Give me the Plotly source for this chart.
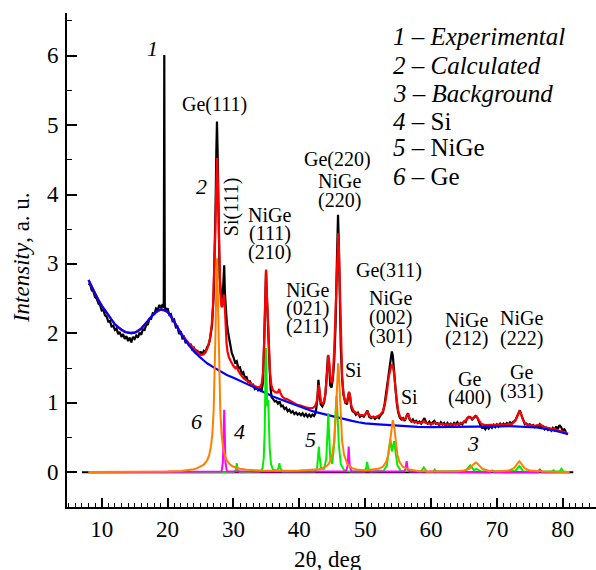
import plotly.graph_objects as go

# ---------------- data ----------------
EXP = [
    (8.0, 2.72), (8.25, 2.70), (8.5, 2.62), (8.75, 2.60), (9.0, 2.52), (9.25, 2.50), (9.5, 2.43), (9.75, 2.41),
    (10.0, 2.33), (10.25, 2.34), (10.5, 2.26), (10.75, 2.24), (11.0, 2.17), (11.25, 2.18), (11.5, 2.10), (11.75, 2.11),
    (12.0, 2.05), (12.25, 2.07), (12.5, 1.99), (12.75, 2.02), (13.0, 1.95), (13.25, 1.99), (13.5, 1.92), (13.75, 1.96),
    (14.0, 1.89), (14.25, 1.94), (14.5, 1.87), (14.75, 1.95), (15.0, 1.92), (15.25, 1.97), (15.5, 1.94), (15.75, 2.01),
    (16.0, 1.98), (16.25, 2.06), (16.5, 2.05), (16.75, 2.12), (17.0, 2.13), (17.25, 2.21), (17.5, 2.21), (17.75, 2.29),
    (18.0, 2.28), (18.25, 2.36), (18.5, 2.34), (18.75, 2.41), (19.0, 2.36), (19.25, 2.42), (19.42, 2.37), (19.5, 6.01),
    (19.58, 2.40), (19.75, 2.32), (20.0, 2.36), (20.25, 2.27), (20.5, 2.28), (20.75, 2.18), (21.0, 2.20), (21.25, 2.09),
    (21.5, 2.10), (21.75, 1.99), (22.0, 2.03), (22.25, 1.93), (22.5, 1.95), (22.75, 1.86), (23.0, 1.89), (23.25, 1.82),
    (23.5, 1.85), (23.75, 1.77), (24.0, 1.79), (24.25, 1.72), (24.5, 1.76), (24.75, 1.70), (25.0, 1.74), (25.25, 1.69),
    (25.5, 1.75), (25.75, 1.73), (26.0, 1.80), (26.25, 1.84), (26.5, 1.95), (26.75, 2.12), (27.0, 2.55), (27.15, 3.05),
    (27.3, 3.90), (27.4, 4.60), (27.5, 5.05), (27.6, 4.60), (27.7, 3.90), (27.8, 3.20), (27.9, 2.80), (28.0, 2.70),
    (28.2, 2.45), (28.35, 2.50), (28.5, 2.85), (28.6, 2.98), (28.7, 2.60), (28.85, 2.30), (29.0, 2.15), (29.25, 1.98),
    (29.5, 1.85), (29.75, 1.72), (30.0, 1.66), (30.25, 1.58), (30.5, 1.60), (30.75, 1.50), (31.0, 1.51), (31.25, 1.42),
    (31.5, 1.44), (31.75, 1.36), (32.0, 1.37), (32.25, 1.30), (32.5, 1.31), (32.75, 1.25), (33.0, 1.26), (33.25, 1.20),
    (33.5, 1.22), (33.75, 1.18), (34.0, 1.20), (34.25, 1.16), (34.5, 1.30), (34.7, 1.90), (34.85, 2.60), (34.95, 2.90),
    (35.05, 2.60), (35.2, 2.15), (35.35, 2.00), (35.5, 1.50), (35.65, 1.20), (35.8, 1.08), (36.0, 1.06), (36.25, 1.02),
    (36.5, 1.03), (36.75, 0.99), (37.0, 1.02), (37.25, 0.95), (37.5, 0.96), (37.75, 0.91), (38.0, 0.93), (38.25, 0.88),
    (38.5, 0.90), (38.75, 0.86), (39.0, 0.88), (39.25, 0.84), (39.5, 0.86), (39.75, 0.83), (40.0, 0.85), (40.25, 0.82),
    (40.5, 0.85), (40.75, 0.81), (41.0, 0.84), (41.25, 0.80), (41.5, 0.83), (41.75, 0.80), (42.0, 0.83), (42.25, 0.81),
    (42.5, 0.86), (42.75, 1.05), (42.9, 1.33), (43.05, 1.20), (43.25, 0.98), (43.5, 0.95), (43.75, 1.00), (44.0, 1.15),
    (44.2, 1.45), (44.35, 1.68), (44.5, 1.60), (44.7, 1.25), (44.9, 1.22), (45.1, 1.35), (45.3, 1.60), (45.5, 2.10),
    (45.7, 3.00), (45.88, 3.71), (46.0, 3.30), (46.15, 2.50), (46.3, 1.80), (46.5, 1.35), (46.7, 1.12), (47.0, 1.00),
    (47.25, 0.98), (47.4, 1.08), (47.55, 1.15), (47.7, 1.10), (47.9, 0.93), (48.1, 0.88), (48.4, 0.86), (48.6, 0.83),
    (48.9, 0.86), (49.2, 0.80), (49.5, 0.82), (49.8, 0.80), (50.1, 0.86), (50.35, 0.89), (50.6, 0.80), (50.9, 0.78),
    (51.2, 0.80), (51.5, 0.77), (51.8, 0.80), (52.1, 0.78), (52.4, 0.83), (52.7, 0.86), (52.95, 0.98), (53.2, 1.15),
    (53.45, 1.35), (53.7, 1.55), (53.9, 1.68), (54.05, 1.74), (54.2, 1.68), (54.4, 1.50), (54.6, 1.22), (54.8, 1.00),
    (55.0, 0.87), (55.25, 0.79), (55.5, 0.76), (55.75, 0.78), (56.0, 0.74), (56.25, 0.80), (56.5, 0.85), (56.75, 0.76),
    (57.0, 0.73), (57.25, 0.76), (57.5, 0.72), (57.75, 0.74), (58.0, 0.71), (58.25, 0.73), (58.5, 0.70), (58.75, 0.74),
    (59.0, 0.78), (59.25, 0.72), (59.5, 0.70), (59.75, 0.73), (60.0, 0.69), (60.25, 0.72), (60.5, 0.74), (60.75, 0.70),
    (61.0, 0.71), (61.25, 0.68), (61.5, 0.72), (61.75, 0.69), (62.0, 0.71), (62.25, 0.67), (62.5, 0.71), (62.75, 0.68),
    (63.0, 0.70), (63.25, 0.67), (63.5, 0.71), (63.75, 0.69), (64.0, 0.72), (64.25, 0.68), (64.5, 0.71), (64.75, 0.69),
    (65.0, 0.73), (65.25, 0.72), (65.5, 0.78), (65.75, 0.80), (66.0, 0.79), (66.25, 0.76), (66.5, 0.79), (66.75, 0.81),
    (67.0, 0.79), (67.25, 0.72), (67.5, 0.68), (67.75, 0.64), (68.0, 0.65), (68.25, 0.62), (68.5, 0.66), (68.75, 0.63),
    (69.0, 0.67), (69.25, 0.64), (69.5, 0.68), (69.75, 0.65), (70.0, 0.69), (70.25, 0.66), (70.5, 0.70), (70.75, 0.67),
    (71.0, 0.70), (71.25, 0.68), (71.5, 0.71), (71.75, 0.69), (72.0, 0.72), (72.25, 0.70), (72.5, 0.73), (72.75, 0.74),
    (73.0, 0.79), (73.25, 0.86), (73.5, 0.89), (73.75, 0.82), (74.0, 0.74), (74.25, 0.69), (74.5, 0.70), (74.75, 0.67),
    (75.0, 0.69), (75.25, 0.66), (75.5, 0.68), (75.75, 0.65), (76.0, 0.67), (76.25, 0.66), (76.5, 0.69), (76.75, 0.64),
    (77.0, 0.66), (77.25, 0.62), (77.5, 0.64), (77.75, 0.61), (78.0, 0.63), (78.25, 0.60), (78.5, 0.64), (78.75, 0.61),
    (79.0, 0.66), (79.25, 0.62), (79.5, 0.68), (79.75, 0.65), (80.0, 0.60), (80.25, 0.62), (80.5, 0.58),
]

CALC = [
    (8.0, 2.77), (9.0, 2.57), (10.0, 2.40), (11.0, 2.26), (12.0, 2.13), (13.0, 2.05), (14.0, 2.01), (15.0, 2.01),
    (16.0, 2.07), (17.0, 2.18), (18.0, 2.29), (19.0, 2.345), (20.0, 2.31), (21.0, 2.17), (22.0, 2.01), (23.0, 1.88),
    (24.0, 1.78), (24.5, 1.73), (25.0, 1.69), (25.5, 1.70), (26.0, 1.77), (26.4, 1.90), (26.7, 2.12), (26.9, 2.40),
    (27.05, 2.75), (27.15, 3.05), (27.25, 3.45), (27.35, 3.95), (27.45, 4.40), (27.52, 4.53), (27.6, 4.30), (27.7, 3.80),
    (27.8, 3.30), (27.9, 2.90), (28.0, 2.62), (28.15, 2.40), (28.3, 2.38), (28.45, 2.50), (28.57, 2.56), (28.68, 2.42),
    (28.8, 2.12), (28.95, 1.86), (29.1, 1.74), (29.3, 1.66), (29.6, 1.60), (30.0, 1.53), (30.3, 1.50), (30.5, 1.52),
    (30.7, 1.47), (31.0, 1.42), (31.5, 1.36), (32.0, 1.32), (32.5, 1.28), (33.0, 1.25), (33.5, 1.23), (34.0, 1.22),
    (34.3, 1.28), (34.5, 1.45), (34.7, 1.95), (34.85, 2.60), (34.95, 2.92), (35.05, 2.62), (35.15, 2.22), (35.28, 2.12),
    (35.4, 1.80), (35.55, 1.45), (35.75, 1.26), (36.0, 1.18), (36.4, 1.15), (36.75, 1.15), (36.95, 1.20), (37.1, 1.15),
    (37.4, 1.09), (37.8, 1.06), (38.2, 1.05), (38.7, 1.02), (39.2, 0.99), (39.7, 0.97), (40.2, 0.96), (40.7, 0.94),
    (41.2, 0.93), (41.7, 0.92), (42.1, 0.93), (42.45, 0.96), (42.7, 1.04), (42.85, 1.18), (42.97, 1.26), (43.1, 1.15),
    (43.3, 1.01), (43.6, 0.98), (43.9, 1.08), (44.15, 1.35), (44.3, 1.60), (44.42, 1.69), (44.55, 1.58), (44.7, 1.38),
    (44.9, 1.29), (45.1, 1.40), (45.3, 1.75), (45.5, 2.35), (45.68, 3.05), (45.82, 3.40), (45.92, 3.44), (46.02, 3.20),
    (46.15, 2.60), (46.3, 1.90), (46.5, 1.38), (46.75, 1.10), (47.0, 1.01), (47.25, 1.02), (47.42, 1.11), (47.55, 1.16),
    (47.7, 1.10), (47.9, 0.96), (48.2, 0.89), (48.7, 0.85), (49.3, 0.82), (49.9, 0.82), (50.15, 0.85), (50.32, 0.88),
    (50.5, 0.84), (50.8, 0.80), (51.3, 0.79), (51.8, 0.80), (52.3, 0.83), (52.7, 0.88), (53.0, 0.98), (53.3, 1.15),
    (53.55, 1.36), (53.8, 1.50), (54.0, 1.55), (54.2, 1.53), (54.4, 1.42), (54.6, 1.20), (54.8, 1.01), (55.0, 0.89),
    (55.3, 0.80), (55.7, 0.76), (56.1, 0.77), (56.35, 0.82), (56.55, 0.83), (56.75, 0.77), (57.1, 0.73), (57.6, 0.72),
    (58.2, 0.71), (58.6, 0.71), (58.9, 0.74), (59.2, 0.71), (59.8, 0.70), (60.35, 0.70), (60.6, 0.72), (60.9, 0.70),
    (62.0, 0.69), (63.0, 0.69), (64.0, 0.69), (64.8, 0.71), (65.3, 0.75), (65.7, 0.79), (66.0, 0.79), (66.3, 0.77),
    (66.6, 0.80), (66.9, 0.81), (67.2, 0.76), (67.6, 0.70), (68.2, 0.68), (69.0, 0.68), (69.8, 0.68), (70.5, 0.68),
    (71.5, 0.69), (72.3, 0.70), (72.8, 0.74), (73.1, 0.81), (73.4, 0.88), (73.6, 0.86), (73.9, 0.77), (74.3, 0.70),
    (75.0, 0.68), (75.8, 0.67), (76.3, 0.68), (76.6, 0.69), (77.0, 0.66), (77.6, 0.645), (78.2, 0.625), (78.6, 0.63),
    (79.0, 0.61), (79.5, 0.595), (79.9, 0.59), (80.3, 0.575), (80.8, 0.555),
]

BKG = [
    (8.0, 2.77), (8.5, 2.67), (9.0, 2.57), (9.5, 2.48), (10.0, 2.40), (10.5, 2.33), (11.0, 2.26), (11.5, 2.19),
    (12.0, 2.13), (12.5, 2.09), (13.0, 2.05), (13.5, 2.02), (14.0, 2.01), (14.5, 2.00), (15.0, 2.01), (15.5, 2.03),
    (16.0, 2.07), (16.5, 2.12), (17.0, 2.18), (17.5, 2.24), (18.0, 2.29), (18.5, 2.33), (19.0, 2.345), (19.5, 2.34),
    (20.0, 2.31), (20.5, 2.25), (21.0, 2.17), (21.5, 2.08), (22.0, 2.00), (22.5, 1.93), (23.0, 1.86), (23.5, 1.80),
    (24.0, 1.74), (24.5, 1.69), (25.0, 1.65), (25.5, 1.61), (26.0, 1.57), (27.0, 1.51), (28.0, 1.45), (29.0, 1.40),
    (30.0, 1.36), (31.0, 1.32), (32.0, 1.28), (33.0, 1.23), (34.0, 1.18), (35.0, 1.13), (36.0, 1.09), (37.0, 1.055),
    (38.0, 1.02), (39.0, 0.98), (40.0, 0.945), (41.0, 0.91), (42.0, 0.88), (43.0, 0.855), (44.0, 0.83), (45.0, 0.805),
    (46.0, 0.785), (47.0, 0.76), (48.0, 0.74), (49.0, 0.72), (50.0, 0.705), (52.0, 0.69), (54.0, 0.675), (56.0, 0.665),
    (58.0, 0.655), (60.0, 0.65), (62.0, 0.65), (64.0, 0.65), (66.0, 0.65), (68.0, 0.655), (70.0, 0.66), (72.0, 0.665),
    (74.0, 0.66), (76.0, 0.645), (77.0, 0.63), (78.0, 0.615), (79.0, 0.595), (80.0, 0.57), (80.8, 0.55),
]

PHASE_SI = [
    (8.0, 0.0), (28.2, 0.01), (28.4, 0.15), (28.5, 0.60), (28.6, 0.90), (28.68, 0.60), (28.78, 0.15), (29.0, 0.01),
    (47.1, 0.01), (47.35, 0.10), (47.5, 0.37), (47.65, 0.10), (47.9, 0.01), (55.9, 0.01), (56.15, 0.05), (56.3, 0.16),
    (56.45, 0.05), (56.7, 0.01), (69.0, 0.0), (69.3, 0.025), (69.6, 0.0), (76.3, 0.0), (76.6, 0.03), (76.9, 0.0), (81.0, 0.0),
]

PHASE_NIGE = [
    (8.0, 0.0), (30.0, 0.0), (30.35, 0.03), (30.5, 0.13), (30.65, 0.03), (31.0, 0.0), (34.0, 0.01), (34.4, 0.05),
    (34.6, 0.20), (34.75, 0.60), (34.85, 1.30), (34.95, 1.79), (35.05, 1.30), (35.12, 0.95), (35.2, 1.00), (35.28, 1.04),
    (35.36, 0.80), (35.5, 0.35), (35.7, 0.12), (36.0, 0.04), (36.6, 0.02), (36.85, 0.06), (36.98, 0.13), (37.1, 0.06),
    (37.5, 0.01), (42.3, 0.01), (42.7, 0.05), (42.88, 0.25), (42.97, 0.37), (43.06, 0.25), (43.3, 0.05), (43.8, 0.05),
    (44.1, 0.20), (44.3, 0.60), (44.4, 0.85), (44.5, 0.60), (44.7, 0.20), (45.0, 0.12), (45.3, 0.40), (45.5, 0.85),
    (45.65, 1.10), (45.8, 0.85), (46.0, 0.40), (46.3, 0.12), (46.8, 0.03), (47.5, 0.01), (49.9, 0.01), (50.15, 0.06),
    (50.3, 0.15), (50.45, 0.06), (50.8, 0.01), (52.8, 0.02), (53.3, 0.10), (53.6, 0.33), (53.85, 0.47), (54.05, 0.30),
    (54.2, 0.35), (54.4, 0.45), (54.6, 0.30), (54.9, 0.10), (55.4, 0.02), (58.5, 0.01), (58.75, 0.05), (58.9, 0.07),
    (59.05, 0.05), (59.4, 0.0), (60.3, 0.01), (60.55, 0.04), (60.8, 0.01), (65.3, 0.02), (65.7, 0.07), (65.95, 0.10),
    (66.2, 0.07), (66.5, 0.03), (66.9, 0.05), (67.2, 0.03), (67.6, 0.01), (72.8, 0.02), (73.2, 0.07), (73.4, 0.09),
    (73.6, 0.07), (74.0, 0.01), (76.2, 0.01), (76.5, 0.04), (76.8, 0.01), (78.3, 0.01), (78.6, 0.03), (78.9, 0.01),
    (79.5, 0.01), (79.8, 0.05), (80.1, 0.01), (81.0, 0.0),
]

PHASE_GE = [
    (8.0, 0.003), (15.0, 0.006), (20.0, 0.012), (22.0, 0.02), (23.0, 0.03), (24.0, 0.045), (24.5, 0.06), (25.0, 0.08),
    (25.5, 0.11), (26.0, 0.17), (26.3, 0.24), (26.6, 0.38), (26.8, 0.55), (27.0, 0.90), (27.1, 1.20), (27.2, 1.60),
    (27.3, 2.10), (27.4, 2.70), (27.5, 3.08), (27.6, 2.70), (27.7, 2.10), (27.8, 1.60), (27.9, 1.20), (28.0, 0.90),
    (28.2, 0.55), (28.4, 0.38), (28.7, 0.24), (29.0, 0.17), (29.5, 0.11), (30.0, 0.08), (31.0, 0.05), (32.0, 0.035),
    (34.0, 0.025), (36.0, 0.02), (38.0, 0.022), (40.0, 0.026), (42.0, 0.035), (43.0, 0.045), (44.0, 0.08), (44.5, 0.12),
    (45.0, 0.25), (45.3, 0.45), (45.5, 0.75), (45.7, 1.20), (45.8, 1.45), (45.9, 1.57), (46.0, 1.45), (46.1, 1.20),
    (46.3, 0.75), (46.5, 0.45), (46.8, 0.25), (47.3, 0.12), (48.0, 0.06), (49.0, 0.035), (50.0, 0.03), (51.0, 0.035),
    (52.0, 0.05), (52.7, 0.08), (53.2, 0.15), (53.5, 0.25), (53.8, 0.48), (54.0, 0.66), (54.2, 0.75), (54.4, 0.66),
    (54.6, 0.48), (54.9, 0.25), (55.2, 0.15), (55.7, 0.08), (56.5, 0.045), (58.0, 0.02), (60.0, 0.012), (62.0, 0.01),
    (64.0, 0.015), (65.0, 0.025), (65.8, 0.05), (66.3, 0.10), (66.6, 0.13), (66.8, 0.14), (67.0, 0.13), (67.3, 0.10),
    (67.8, 0.05), (68.8, 0.02), (70.5, 0.015), (71.8, 0.025), (72.6, 0.06), (73.0, 0.11), (73.3, 0.15), (73.4, 0.16),
    (73.5, 0.15), (73.8, 0.11), (74.2, 0.06), (75.0, 0.025), (77.0, 0.01), (80.0, 0.005), (81.0, 0.004),
]

ZERO_X = [7.0, 81.6]
ZERO_Y = [0.0, 0.0]

X_TICKS = [10, 20, 30, 40, 50, 60, 70, 80]
Y_TICKS = [0, 1, 2, 3, 4, 5, 6]

# peak labels: (text, x, y, size, angle)
LABELS = [
    ("<i>1</i>", 17.74, 6.11, 22, 0),
    ("Ge(111)", 27.2, 5.29, 20, 0),
    ("<i>2</i>", 25.18, 4.12, 22, 0),
    ("Si(111)", 29.65, 3.82, 20, -90),
    ("NiGe", 35.55, 3.71, 20, 0), ("(111)", 35.55, 3.44, 20, 0), ("(210)", 35.55, 3.17, 20, 0),
    ("NiGe", 41.22, 2.63, 20, 0), ("(021)", 41.22, 2.36, 20, 0), ("(211)", 41.22, 2.10, 20, 0),
    ("Ge(220)", 45.83, 4.50, 20, 0), ("NiGe", 46.08, 4.20, 20, 0), ("(220)", 46.08, 3.92, 20, 0),
    ("Ge(311)", 53.67, 2.91, 20, 0),
    ("NiGe", 53.78, 2.51, 20, 0), ("(002)", 53.78, 2.23, 20, 0), ("(301)", 53.78, 1.95, 20, 0),
    ("Si", 48.2, 1.48, 20, 0),
    ("Si", 56.66, 1.08, 20, 0),
    ("NiGe", 65.42, 2.19, 20, 0), ("(212)", 65.42, 1.92, 20, 0),
    ("NiGe", 73.77, 2.22, 20, 0), ("(222)", 73.77, 1.93, 20, 0),
    ("Ge", 65.82, 1.35, 20, 0), ("(400)", 65.82, 1.07, 20, 0),
    ("Ge", 73.77, 1.44, 20, 0), ("(331)", 73.77, 1.16, 20, 0),
    ("<i>3</i>", 66.33, 0.42, 22, 0),
    ("<i>5</i>", 41.73, 0.47, 22, 0),
    ("<i>6</i>", 24.42, 0.73, 22, 0),
    ("<i>4</i>", 30.85, 0.585, 22, 0),
]

LEGEND_LINES = [
    "<i>1 – Experimental</i>",
    "<i>2 – Calculated</i>",
    "<i>3 – Background</i>",
    "<i>4</i> – Si",
    "<i>5</i> – NiGe",
    "<i>6</i> – Ge",
]
LEGEND_Y = [6.28, 5.86, 5.45, 5.05, 4.67, 4.26]
LEGEND_X = 54.03

FONT = "Liberation Serif"

# ---------------- figure ----------------
fig = go.Figure()


def add_series(pairs, color, width):
    xs = [p[0] for p in pairs]
    ys = [p[1] for p in pairs]
    fig.add_trace(go.Scatter(x=xs, y=ys, mode="lines",
                             line=dict(color=color, width=width),
                             hoverinfo="skip", showlegend=False))


fig.add_trace(go.Scatter(x=ZERO_X, y=ZERO_Y, mode="lines",
                         line=dict(color="black", width=2), hoverinfo="skip", showlegend=False))
add_series(EXP, "black", 2.2)
add_series(CALC, "#ff0000", 2.2)
add_series(BKG, "#0000ff", 2.2)
add_series(PHASE_NIGE, "#00ee00", 2)
add_series(PHASE_SI, "#ff00ff", 2)
add_series(PHASE_GE, "#ff8000", 2)

annotations = []
for text, x, y, size, ang in LABELS:
    annotations.append(dict(text=text, x=x, y=y, xref="x", yref="y", showarrow=False,
                            textangle=ang, xanchor="center", yanchor="middle", borderpad=0,
                            font=dict(family=FONT, size=size, color="black")))
for text, y in zip(LEGEND_LINES, LEGEND_Y):
    annotations.append(dict(text=text, x=LEGEND_X, y=y, xref="x", yref="y", showarrow=False,
                            xanchor="left", yanchor="middle", borderpad=0,
                            font=dict(family=FONT, size=25, color="black")))
# y tick labels placed just left of the axis
for v in Y_TICKS:
    annotations.append(dict(text=str(v), x=-0.0135, y=v, xref="paper", yref="y", showarrow=False,
                            xanchor="right", yanchor="middle", borderpad=0,
                            font=dict(family=FONT, size=23, color="black")))
# axis titles
annotations.append(dict(text="<i>Intensity</i>, a. u.", x=-0.0856, y=3.095, xref="paper", yref="y",
                        showarrow=False, textangle=-90, xanchor="center", yanchor="middle",
                        font=dict(family=FONT, size=23, color="black")))
annotations.append(dict(text="2θ, deg", x=44.36, y=-0.107, xref="x", yref="paper",
                        showarrow=False, xanchor="center", yanchor="middle",
                        font=dict(family=FONT, size=23, color="black")))

fig.update_layout(
    width=596, height=570,
    margin=dict(l=67, r=0, t=13, b=63),
    paper_bgcolor="white", plot_bgcolor="white",
    showlegend=False,
    annotations=annotations,
    font=dict(family=FONT, size=23, color="black"),
)
fig.update_xaxes(
    range=[4.73, 85.05], showgrid=False, zeroline=False,
    showline=True, linecolor="black", linewidth=2, mirror=False,
    ticks="inside", ticklen=9, tickwidth=1.5, tickcolor="black",
    tickvals=X_TICKS, ticktext=[str(v) for v in X_TICKS],
    ticklabelstandoff=0,
    tickfont=dict(family=FONT, size=23, color="black"),
    minor=dict(dtick=1, tick0=0, ticks="inside", ticklen=4, tickwidth=1.2, tickcolor="black", showgrid=False),
)
fig.update_yaxes(
    range=[-0.5, 6.614], showgrid=False, zeroline=False,
    showline=True, linecolor="black", linewidth=2, mirror=False,
    ticks="inside", ticklen=10, tickwidth=1.5, tickcolor="black",
    tickvals=Y_TICKS, showticklabels=False,
    minor=dict(dtick=0.5, tick0=0, ticks="inside", ticklen=5, tickwidth=1.2, tickcolor="black", showgrid=False),
)

fig.write_html("out.html", config=dict(displayModeBar=False),
               post_script="document.body.style.margin='0px';")
